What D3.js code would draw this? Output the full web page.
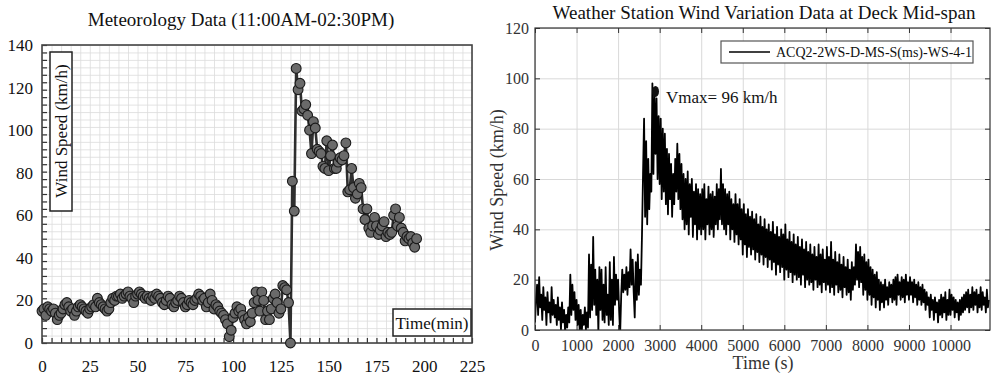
<!DOCTYPE html>
<html>
<head>
<meta charset="utf-8">
<script src="https://cdn.jsdelivr.net/npm/d3@7"></script>
<style>
  body { margin: 0; background: #fff; }
  svg { display: block; font-family: "Liberation Serif", "Times New Roman", serif; }
</style>
</head>
<body>
<svg id="chart" width="992" height="376"></svg>
<script>
// ---- left panel: meteorology data, one reading per minute (km/h)
const meteoSpeed = [
  15, 16, 13, 17, 16, 15, 16, 14, 11, 13,
  14, 16, 18, 19, 17, 15, 16, 13, 15, 17,
  18, 17, 16, 15, 14, 16, 17, 18, 17, 21,
  19, 18, 17, 16, 15, 16, 19, 21, 20, 22,
  22, 23, 21, 22, 23, 24, 22, 21, 19, 22,
  23, 24, 23, 22, 21, 22, 21, 20, 22, 21,
  23, 22, 21, 19, 18, 20, 22, 21, 18, 17,
  19, 20, 22, 21, 19, 17, 18, 20, 19, 18,
  20, 21, 23, 22, 20, 21, 17, 19, 23, 20,
  16, 18, 17, 15, 14, 13, 11, 9, 3, 6,
  12, 14, 17, 15, 16, 13, 11, 9, 12, 10,
  14, 19, 24, 20, 15, 24, 20, 11, 15, 11,
  16, 21, 23, 19, 14, 16, 27, 26, 25, 19,
  0, 76, 62, 129, 119, 122, 109, 110, 112, 107,
  100, 89, 104, 101, 91, 90, 89, 83, 82, 95,
  81, 88, 93, 82, 82, 85, 87, 86, 88, 94,
  71, 72, 82, 73, 68, 70, 75, 73, 63, 58,
  63, 54, 52, 55, 59, 55, 51, 53, 55, 57,
  50, 52, 51, 52, 60, 63, 55, 59, 54, 52,
  48, 50, 49, 50, 47, 45, 49
];
const meteoXTicks = [0, 25, 50, 75, 100, 125, 150, 175, 200, 225];
const meteoYTicks = [0, 20, 40, 60, 80, 100, 120, 140];

// ---- right panel: station record, sampled every 25 s (km/h)
const stationStep = 25;
const stationSpeed = [
  3, 12, 18, 6, 21, 9, 14, 4, 17, 8, 13, 2, 15, 7, 11, 3, 17, 6, 12, 5,
  10, 2, 13, 4, 9, 0, 11, 3, 8, -1, 6, 1, 9, 3, 22, 6, 18, 8, 15, 4,
  12, 2, 10, 0, 8, -1, 6, 2, 9, 0, 7, 1, 30, 5, 26, 8, 37, 10, 24, 6,
  20, -1, 25, 8, 24, 4, 18, 3, 25, 6, 14, 2, 27, 4, 20, 2, 29, 10, 22, 12,
  20, 8, -1, 14, 24, 15, 22, 16, 25, 14, 23, 17, 32, 18, 28, 15, 5, 27, 12, 30,
  14, 24, 18, 38, 62, 84, 45, 75, 42, 68, 48, 62, 55, 98, 62, 94, 70, 92, 60, 85,
  58, 84, 52, 80, 55, 78, 50, 72, 46, 70, 52, 66, 45, 62, 50, 68, 55, 74, 52, 70,
  48, 66, 44, 62, 40, 60, 42, 63, 38, 58, 45, 60, 37, 55, 42, 58, 36, 56, 40, 54,
  38, 56, 40, 58, 36, 52, 42, 57, 38, 54, 40, 55, 37, 53, 42, 58, 40, 56, 44, 64,
  42, 58, 40, 56, 38, 54, 42, 55, 36, 52, 40, 50, 35, 54, 38, 50, 34, 52, 36, 48,
  30, 50, 34, 46, 29, 48, 33, 45, 30, 47, 32, 44, 28, 46, 31, 42, 27, 45, 30, 41,
  26, 44, 29, 40, 25, 42, 28, 39, 24, 43, 27, 38, 22, 41, 26, 37, 23, 40, 25, 38,
  20, 42, 24, 36, 21, 39, 23, 35, 19, 38, 22, 34, 20, 37, 21, 33, 18, 36, 22, 32,
  17, 35, 20, 31, 18, 34, 19, 30, 16, 33, 20, 29, 17, 34, 18, 30, 15, 32, 19, 28,
  16, 33, 18, 29, 15, 35, 17, 28, 14, 31, 18, 27, 15, 30, 16, 26, 13, 29, 17, 25,
  14, 28, 15, 24, 12, 27, 16, 25, 18, 34, 20, 31, 17, 33, 19, 29, 14, 30, 16, 27,
  12, 28, 14, 25, 10, 24, 13, 22, 9, 23, 12, 20, 8, 19, 11, 18, 9, 20, 12, 17,
  10, 19, 13, 18, 11, 20, 12, 21, 10, 22, 14, 19, 12, 21, 13, 20, 11, 22, 14, 19,
  12, 21, 14, 19, 11, 20, 13, 18, 10, 19, 12, 17, 10, 18, 11, 16, 8, 15, 10, 13,
  5, 14, 8, 12, 4, 13, 7, 11, 3, 12, 6, 14, 5, 13, 7, 15, 4, 12, 6, 16,
  6, 14, 8, 13, 5, 12, 7, 11, 4, 12, 6, 13, 7, 14, 8, 15, 9, 16, 7, 14,
  9, 17, 8, 15, 10, 16, 7, 14, 9, 17, 8, 15, 10, 13, 7, 16, 9, 12
];
const stationXTicks = [0, 1000, 2000, 3000, 4000, 5000, 6000, 7000, 8000, 9000, 10000];
const stationYTicks = [0, 20, 40, 60, 80, 100, 120];
const vmaxTime = 2900;
const vmaxValue = 96;

const svg = d3.select("#chart");
const SERIF = "Liberation Serif, Times New Roman, serif";

// ================= LEFT PANEL =================
const LM = {left: 42, right: 472, top: 45, bottom: 343};
const xL = d3.scaleLinear().domain([0, 225]).range([LM.left, LM.right]);
const yL = d3.scaleLinear().domain([0, 140]).range([LM.bottom, LM.top]);
const leftW = LM.right - LM.left, leftH = LM.bottom - LM.top;

svg.append("text")
  .attr("x", 241).attr("y", 26)
  .attr("text-anchor", "middle")
  .attr("font-size", "19px")
  .attr("fill", "#111")
  .text("Meteorology Data (11:00AM-02:30PM)");

// fine grid
svg.append("g")
  .attr("transform", "translate(0," + LM.bottom + ")")
  .call(d3.axisBottom(xL).tickValues(d3.range(0, 226, 5)).tickSize(-leftH).tickFormat(""))
  .call(g => g.select(".domain").remove())
  .call(g => g.selectAll("line").attr("stroke", "#dcdcdc").attr("stroke-width", 0.8));
svg.append("g")
  .attr("transform", "translate(" + LM.left + ",0)")
  .call(d3.axisLeft(yL).tickValues(d3.range(0, 141, 3.5)).tickSize(-leftW).tickFormat(""))
  .call(g => g.select(".domain").remove())
  .call(g => g.selectAll("line").attr("stroke", "#dcdcdc").attr("stroke-width", 0.8));

// inward minor ticks
svg.append("g")
  .attr("transform", "translate(0," + LM.bottom + ")")
  .call(d3.axisTop(xL).tickValues(d3.range(0, 226, 5)).tickSize(5).tickFormat(""))
  .call(g => g.select(".domain").remove())
  .call(g => g.selectAll("line").attr("stroke", "#333").attr("stroke-width", 1.2));
svg.append("g")
  .attr("transform", "translate(" + LM.left + ",0)")
  .call(d3.axisRight(yL).tickValues(d3.range(0, 141, 3.5)).tickSize(5).tickFormat(""))
  .call(g => g.select(".domain").remove())
  .call(g => g.selectAll("line").attr("stroke", "#333").attr("stroke-width", 1.2));

// tick labels
svg.append("g")
  .attr("transform", "translate(0," + LM.bottom + ")")
  .call(d3.axisBottom(xL).tickValues(meteoXTicks).tickSize(0).tickPadding(17))
  .call(g => g.select(".domain").remove())
  .call(g => g.selectAll("text").attr("font-size", "17px").attr("font-family", SERIF).attr("fill", "#111"));
svg.append("g")
  .attr("transform", "translate(" + LM.left + ",0)")
  .call(d3.axisLeft(yL).tickValues(meteoYTicks).tickSize(0).tickPadding(9))
  .call(g => g.select(".domain").remove())
  .call(g => g.selectAll("text").attr("font-size", "17px").attr("font-family", SERIF).attr("fill", "#111"));

// frame
svg.append("rect")
  .attr("x", LM.left).attr("y", LM.top)
  .attr("width", leftW).attr("height", leftH)
  .attr("fill", "none").attr("stroke", "#444").attr("stroke-width", 1.6);

// series
const meteo = meteoSpeed.map((v, i) => ({t: i, v: v}));
svg.append("path")
  .datum(meteo)
  .attr("fill", "none")
  .attr("stroke", "#2e2e2e")
  .attr("stroke-width", 2.6)
  .attr("d", d3.line().x(d => xL(d.t)).y(d => yL(d.v)));
svg.append("g").selectAll("circle")
  .data(meteo)
  .join("circle")
  .attr("cx", d => xL(d.t))
  .attr("cy", d => yL(d.v))
  .attr("r", 4.9)
  .attr("fill", "#6a6a6a")
  .attr("stroke", "#1a1a1a")
  .attr("stroke-width", 1.1);

// boxed axis captions
svg.append("rect")
  .attr("x", 50).attr("y", 52).attr("width", 22).attr("height", 159)
  .attr("fill", "#fff").attr("stroke", "#222").attr("stroke-width", 1.5);
svg.append("text")
  .attr("transform", "translate(67,131) rotate(-90)")
  .attr("text-anchor", "middle")
  .attr("font-size", "17px").attr("fill", "#111")
  .text("Wind Speed (km/h)");
svg.append("rect")
  .attr("x", 393).attr("y", 309).attr("width", 78).attr("height", 27)
  .attr("fill", "#fff").attr("stroke", "#222").attr("stroke-width", 1.5);
svg.append("text")
  .attr("x", 432).attr("y", 329)
  .attr("text-anchor", "middle")
  .attr("font-size", "17px").attr("fill", "#111")
  .text("Time(min)");

// ================= RIGHT PANEL =================
const RM = {left: 535, right: 990, top: 28, bottom: 330};
const xR = d3.scaleLinear().domain([0, 10950]).range([RM.left, RM.right]);
const yR = d3.scaleLinear().domain([0, 120]).range([RM.bottom, RM.top]);
const rightW = RM.right - RM.left, rightH = RM.bottom - RM.top;

svg.append("text")
  .attr("x", 764).attr("y", 19)
  .attr("text-anchor", "middle")
  .attr("font-size", "19px").attr("fill", "#111")
  .text("Weather Station Wind Variation Data at Deck Mid-span");

// grid
svg.append("g")
  .attr("transform", "translate(0," + RM.bottom + ")")
  .call(d3.axisBottom(xR).tickValues(stationXTicks).tickSize(-rightH).tickFormat(""))
  .call(g => g.select(".domain").remove())
  .call(g => g.selectAll("line").attr("stroke", "#d9d9d9").attr("stroke-width", 1));
svg.append("g")
  .attr("transform", "translate(" + RM.left + ",0)")
  .call(d3.axisLeft(yR).tickValues(stationYTicks).tickSize(-rightW).tickFormat(""))
  .call(g => g.select(".domain").remove())
  .call(g => g.selectAll("line").attr("stroke", "#d9d9d9").attr("stroke-width", 1));

// tick labels
svg.append("g")
  .attr("transform", "translate(0," + RM.bottom + ")")
  .call(d3.axisBottom(xR).tickValues(stationXTicks).tickSize(0).tickPadding(10).tickFormat(d3.format("d")))
  .call(g => g.select(".domain").remove())
  .call(g => g.selectAll("text").attr("font-size", "16px").attr("font-family", SERIF).attr("fill", "#333"));
svg.append("g")
  .attr("transform", "translate(" + RM.left + ",0)")
  .call(d3.axisLeft(yR).tickValues(stationYTicks).tickSize(0).tickPadding(6))
  .call(g => g.select(".domain").remove())
  .call(g => g.selectAll("text").attr("font-size", "16px").attr("font-family", SERIF).attr("fill", "#333"));

// inward ticks on all four sides
const tickStyle = g => g.call(s => s.select(".domain").remove())
  .call(s => s.selectAll("line").attr("stroke", "#333").attr("stroke-width", 1));
svg.append("g").attr("transform", "translate(0," + RM.bottom + ")")
  .call(d3.axisTop(xR).tickValues(stationXTicks).tickSize(5).tickFormat("")).call(tickStyle);
svg.append("g").attr("transform", "translate(0," + RM.top + ")")
  .call(d3.axisBottom(xR).tickValues(stationXTicks).tickSize(5).tickFormat("")).call(tickStyle);
svg.append("g").attr("transform", "translate(" + RM.left + ",0)")
  .call(d3.axisRight(yR).tickValues(stationYTicks).tickSize(5).tickFormat("")).call(tickStyle);
svg.append("g").attr("transform", "translate(" + RM.right + ",0)")
  .call(d3.axisLeft(yR).tickValues(stationYTicks).tickSize(5).tickFormat("")).call(tickStyle);

svg.append("defs").append("clipPath").attr("id", "clipR")
  .append("rect").attr("x", RM.left).attr("y", RM.top).attr("width", rightW).attr("height", rightH);

const station = stationSpeed.map((v, i) => ({t: i * stationStep, v: v}));
svg.append("path")
  .datum(station)
  .attr("clip-path", "url(#clipR)")
  .attr("fill", "none")
  .attr("stroke", "#000")
  .attr("stroke-width", 1.8)
  .attr("stroke-linejoin", "round")
  .attr("d", d3.line().x(d => xR(d.t)).y(d => yR(d.v)));

svg.append("rect")
  .attr("x", RM.left).attr("y", RM.top)
  .attr("width", rightW).attr("height", rightH)
  .attr("fill", "none").attr("stroke", "#333").attr("stroke-width", 1.2);

// Vmax marker
svg.append("ellipse")
  .attr("cx", xR(vmaxTime)).attr("cy", yR(vmaxValue) + 3)
  .attr("rx", 3.5).attr("ry", 5.5)
  .attr("fill", "#111");
svg.append("text")
  .attr("x", 666).attr("y", 103)
  .attr("font-size", "17px").attr("fill", "#111")
  .text("Vmax= " + vmaxValue + " km/h");

// legend
svg.append("rect")
  .attr("x", 721).attr("y", 41).attr("width", 252).attr("height", 22)
  .attr("fill", "#fff").attr("stroke", "#555").attr("stroke-width", 1.2);
svg.append("line")
  .attr("x1", 729).attr("x2", 770).attr("y1", 52).attr("y2", 52)
  .attr("stroke", "#000").attr("stroke-width", 1.6);
svg.append("text")
  .attr("x", 776).attr("y", 57)
  .attr("font-size", "14px").attr("fill", "#111")
  .text("ACQ2-2WS-D-MS-S(ms)-WS-4-1");

// axis titles
svg.append("text")
  .attr("transform", "translate(503,180) rotate(-90)")
  .attr("text-anchor", "middle")
  .attr("font-size", "18px").attr("fill", "#333")
  .text("Wind Speed (km/h)");
svg.append("text")
  .attr("x", 763).attr("y", 369)
  .attr("text-anchor", "middle")
  .attr("font-size", "18px").attr("fill", "#333")
  .text("Time (s)");
</script>
</body>
</html>
